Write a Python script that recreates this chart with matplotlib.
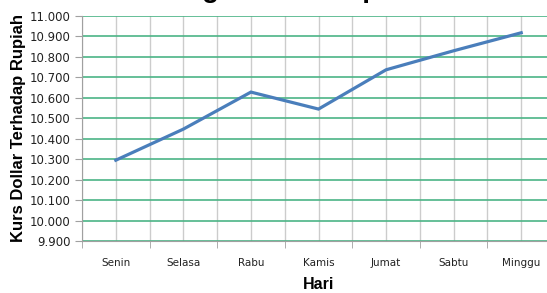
import numpy as np
import matplotlib.pyplot as plt
from matplotlib.ticker import FuncFormatter, MultipleLocator

# data
hari = ['Senin', 'Selasa', 'Rabu', 'Kamis', 'Jumat', 'Sabtu', 'Minggu']
kurs = [10295, 10447, 10628, 10545, 10737, 10830, 10918]

fig = plt.figure(figsize=(5.47, 2.93), dpi=100)
ax = fig.add_axes([82/547, 52/293, (555-82)/547, 225/293])

x = np.arange(len(hari))
ax.plot(x, kurs, color='#4a7ebb', lw=2.3, solid_joinstyle='miter', zorder=3)

ax.set_xlim(-0.5, 6.5)
ax.set_ylim(9900, 11000)
ax.yaxis.set_major_locator(MultipleLocator(100))
ax.yaxis.set_major_formatter(FuncFormatter(lambda v, p: f'{v:,.0f}'.replace(',', '.')))

ax.set_xticks(x)
ax.set_xticklabels(hari)
ax.set_xticks(np.arange(-0.5, 7, 1), minor=True)

# gridlines: green horizontal, grey vertical
ax.grid(axis='y', color='#4cb486', lw=1.2, zorder=1)
ax.grid(axis='x', which='both', color='#cccccc', lw=1.0, zorder=0)

for s in ['top', 'right']:
    ax.spines[s].set_visible(False)
ax.spines['left'].set_color('#a0a0a0')
ax.spines['bottom'].set_color('#a0a0a0')

ax.tick_params(axis='y', length=5, color='#a0a0a0', labelsize=8.5, pad=3,
               labelcolor='#222222')
ax.tick_params(axis='x', which='major', length=0, labelsize=7.5, pad=12,
               labelcolor='#222222')
ax.tick_params(axis='x', which='minor', length=5, color='#a0a0a0')

ax.set_ylabel('Kurs Dollar Terhadap Rupiah', fontsize=12, fontweight='heavy',
              family='Liberation Sans', labelpad=3)
ax.set_xlabel('Hari', fontsize=11.5, fontweight='bold', family='Liberation Sans',
              labelpad=7)

# title cut off at the top of the image, only descenders visible
fig.text(0.466, 1.01, 'Grafik Harga Dollar Sepekan', ha='center', va='baseline',
         fontsize=20, fontweight='bold', family='Liberation Sans')

fig.savefig('out.png', dpi=100)
